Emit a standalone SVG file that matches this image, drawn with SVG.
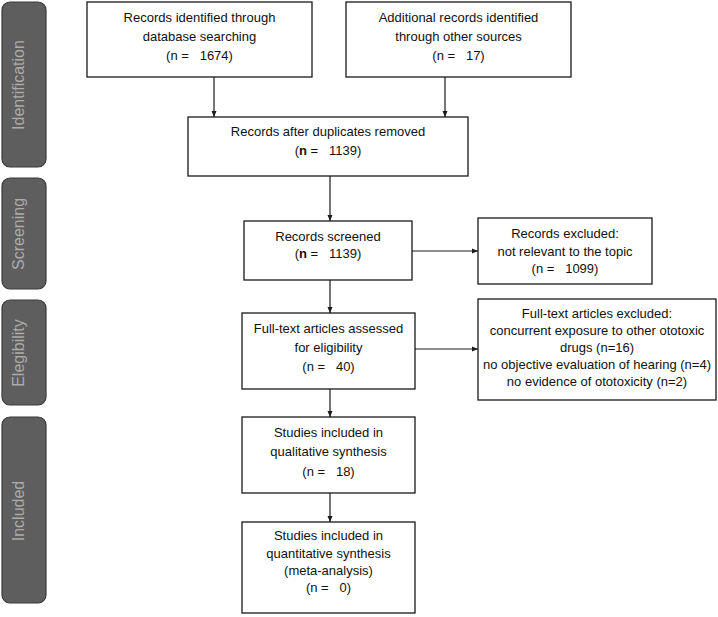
<svg xmlns="http://www.w3.org/2000/svg" width="718" height="617" viewBox="0 0 718 617">
<style>
.bg{fill:#ffffff}
.bar{fill:#5e5e5e;stroke:#3a3a3a;stroke-width:1.2}
.bl{font-family:"Liberation Sans",Arial,sans-serif;font-size:16px;fill:#ababab;text-anchor:middle}
.box{fill:#ffffff;stroke:#1a1a1a;stroke-width:1.3}
.t{font-family:"Liberation Sans",Arial,sans-serif;font-size:13px;fill:#111111;text-anchor:middle;white-space:pre}
.c{stroke:#1a1a1a;stroke-width:1.2;fill:none;marker-end:url(#ah)}
</style>
<defs>
<marker id="ah" markerUnits="userSpaceOnUse" markerWidth="6" markerHeight="6" refX="6" refY="3" orient="auto">
<path d="M0,0.5 L6,3 L0,5.5 z" fill="#1a1a1a"/>
</marker>
</defs>
<rect class="bg" x="0" y="0" width="718" height="617"/>
<g id="phases">
<g id="phase-identification"><rect class="bar" x="2" y="2" width="44" height="165" rx="8"/><text class="bl" transform="translate(24,85) rotate(-90)">Identification</text></g>
<g id="phase-screening"><rect class="bar" x="2" y="178" width="44" height="111" rx="8"/><text class="bl" transform="translate(24,234) rotate(-90)">Screening</text></g>
<g id="phase-eligibility"><rect class="bar" x="2" y="300" width="44" height="105" rx="8"/><text class="bl" transform="translate(24,353) rotate(-90)">Elegibility</text></g>
<g id="phase-included"><rect class="bar" x="2" y="417" width="44" height="186" rx="8"/><text class="bl" transform="translate(24,511) rotate(-90)">Included</text></g>
</g>
<g id="connectors">
<line class="c" x1="214" y1="77" x2="214" y2="117"/>
<line class="c" x1="445" y1="77" x2="445" y2="117"/>
<line class="c" x1="330" y1="176" x2="330" y2="221"/>
<line class="c" x1="330" y1="280" x2="330" y2="313"/>
<line class="c" x1="330" y1="389" x2="330" y2="417"/>
<line class="c" x1="330" y1="493" x2="330" y2="522"/>
<line class="c" x1="412" y1="251" x2="478" y2="251"/>
<line class="c" x1="415" y1="349" x2="478" y2="349"/>
</g>
<g id="n-database">
<rect class="box" x="87" y="2" width="225" height="75"/>
<text class="t" x="199.5" y="21.5">Records identified through</text>
<text class="t" x="199.5" y="40.5">database searching</text>
<text class="t" x="199.5" y="59.5">(n =   1674)</text>
</g>
<g id="n-other">
<rect class="box" x="346" y="2" width="225" height="75"/>
<text class="t" x="458.5" y="21.5">Additional records identified</text>
<text class="t" x="458.5" y="40.5">through other sources</text>
<text class="t" x="458.5" y="59.5">(n =   17)</text>
</g>
<g id="n-duplicates">
<rect class="box" x="188" y="117" width="280" height="59"/>
<text class="t" x="328" y="135.5">Records after duplicates removed</text>
<text class="t" x="328" y="154.5">(<tspan font-weight="bold">n</tspan> =   1139)</text>
</g>
<g id="n-screened">
<rect class="box" x="244" y="221" width="168" height="59"/>
<text class="t" x="328" y="240.5">Records screened</text>
<text class="t" x="328" y="258">(<tspan font-weight="bold">n</tspan> =   1139)</text>
</g>
<g id="n-excluded">
<rect class="box" x="478" y="218" width="174" height="66"/>
<text class="t" x="565" y="237.5">Records excluded:</text>
<text class="t" x="565" y="255.5">not relevant to the topic</text>
<text class="t" x="565" y="272.5">(n =   1099)</text>
</g>
<g id="n-fulltext">
<rect class="box" x="242" y="313" width="173" height="76"/>
<text class="t" x="328.5" y="332.5">Full-text articles assessed</text>
<text class="t" x="328.5" y="351.5">for eligibility</text>
<text class="t" x="328.5" y="370.5">(n =   40)</text>
</g>
<g id="n-ft-excluded">
<rect class="box" x="478" y="299" width="238" height="101"/>
<text class="t" x="597" y="317.5">Full-text articles excluded:</text>
<text class="t" x="597" y="334.7">concurrent exposure to other ototoxic</text>
<text class="t" x="597" y="351.9">drugs (n=16)</text>
<text class="t" x="597" y="369.1">no objective evaluation of hearing (n=4)</text>
<text class="t" x="597" y="386.3">no evidence of ototoxicity (n=2)</text>
</g>
<g id="n-qualitative">
<rect class="box" x="242" y="417" width="173" height="76"/>
<text class="t" x="328.5" y="436.5">Studies included in</text>
<text class="t" x="328.5" y="456">qualitative synthesis</text>
<text class="t" x="328.5" y="475.5">(n =   18)</text>
</g>
<g id="n-quantitative">
<rect class="box" x="242" y="522" width="173" height="91"/>
<text class="t" x="328.5" y="539.5">Studies included in</text>
<text class="t" x="328.5" y="557.5">quantitative synthesis</text>
<text class="t" x="328.5" y="575">(meta-analysis)</text>
<text class="t" x="328.5" y="592">(n =   0)</text>
</g>
</svg>
